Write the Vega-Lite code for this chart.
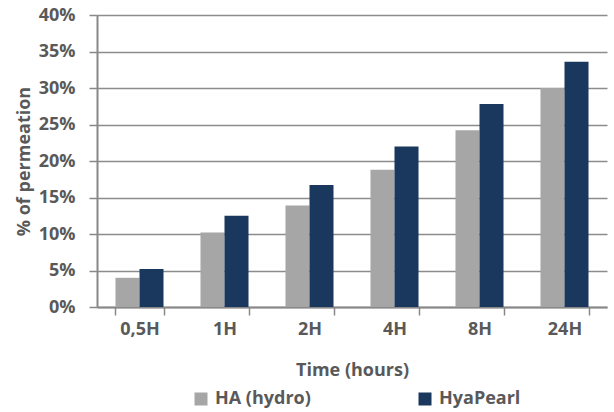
{
  "$schema": "https://vega.github.io/schema/vega-lite/v6.json",
  "autosize": {"type": "none"},
  "width": 510,
  "height": 292,
  "padding": {"left": 97, "top": 15, "right": 7, "bottom": 105},
  "background": "white",
  "config": {
    "view": {"stroke": null},
    "font": "Open Sans",
    "axis": {"labelFont": "Open Sans", "titleFont": "Open Sans", "labelFontWeight": "bold", "titleFontWeight": "bold", "labelColor": "#595959", "titleColor": "#595959", "labelFontSize": 18, "titleFontSize": 18},
    "legend": {"labelFont": "Open Sans", "labelFontWeight": "bold", "labelColor": "#595959", "labelFontSize": 18}
  },
  "data": {
    "values": [
      {"time": "0,5H", "series": "HA (hydro)", "value": 0.040},
      {"time": "0,5H", "series": "HyaPearl", "value": 0.052},
      {"time": "1H", "series": "HA (hydro)", "value": 0.102},
      {"time": "1H", "series": "HyaPearl", "value": 0.125},
      {"time": "2H", "series": "HA (hydro)", "value": 0.139},
      {"time": "2H", "series": "HyaPearl", "value": 0.167},
      {"time": "4H", "series": "HA (hydro)", "value": 0.188},
      {"time": "4H", "series": "HyaPearl", "value": 0.220},
      {"time": "8H", "series": "HA (hydro)", "value": 0.242},
      {"time": "8H", "series": "HyaPearl", "value": 0.278},
      {"time": "24H", "series": "HA (hydro)", "value": 0.300},
      {"time": "24H", "series": "HyaPearl", "value": 0.336}
    ]
  },
  "mark": {"type": "bar"},
  "encoding": {
    "x": {
      "field": "time", "type": "nominal", "sort": null,
      "scale": {"paddingInner": 0.435, "paddingOuter": 0.2175},
      "axis": {"title": "Time (hours)", "labelAngle": 0, "domainColor": "#888888", "domainWidth": 2, "tickColor": "#888888", "tickWidth": 1.5, "tickSize": 8, "tickBand": "extent", "labelPadding": 5, "titlePadding": 23}
    },
    "xOffset": {"field": "series", "type": "nominal", "scale": {"paddingInner": 0, "paddingOuter": 0}},
    "y": {
      "field": "value", "type": "quantitative",
      "scale": {"domain": [0, 0.4], "nice": false},
      "axis": {"title": "% of permeation", "format": ".0%", "values": [0, 0.05, 0.1, 0.15, 0.2, 0.25, 0.3, 0.35, 0.4], "domainColor": "#888888", "domainWidth": 2, "tickColor": "#888888", "tickWidth": 1.5, "tickSize": 8, "gridColor": "#8c8c8c", "gridWidth": 1.5, "labelPadding": 14, "titlePadding": 5}
    },
    "color": {
      "field": "series", "type": "nominal",
      "scale": {"domain": ["HA (hydro)", "HyaPearl"], "range": ["#a6a6a6", "#1a375e"]},
      "legend": {"title": null, "orient": "none", "direction": "horizontal", "legendX": 95, "legendY": 375, "symbolType": "square", "symbolSize": 169, "symbolStrokeWidth": 0, "symbolOpacity": 1, "columnPadding": 105, "labelOffset": 5}
    }
  }
}
